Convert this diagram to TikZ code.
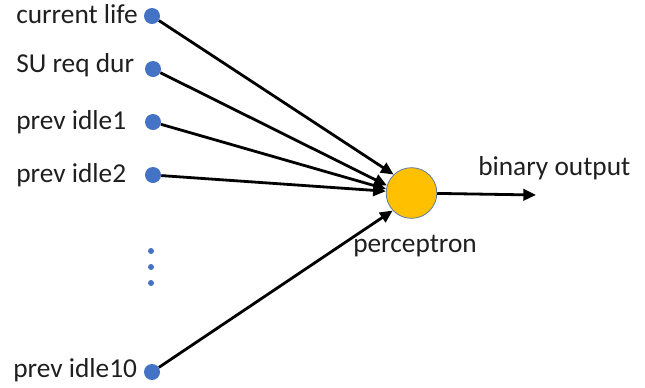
\documentclass[tikz,border=0pt]{standalone}
\usepackage{fontspec}
\setmainfont{Carlito}
\usetikzlibrary{arrows.meta}
\definecolor{dotblue}{HTML}{4472C4}
\definecolor{pgold}{HTML}{FFC000}
\definecolor{pedge}{HTML}{5B7BAA}
\begin{document}
\begin{tikzpicture}[x=0.75pt,y=-0.75pt,
  inputdot/.style={circle,fill=dotblue,minimum size=12pt,inner sep=0pt},
  smalldot/.style={circle,fill=dotblue,minimum size=4.5pt,inner sep=0pt},
  lbl/.style={anchor=base west,inner sep=0pt,font=\fontsize{20.5}{24}\selectfont,text=black!88},
  conn/.style={line width=2.1pt,-{Triangle[length=9.5pt,width=8.5pt]}}]
\useasboundingbox (0,0) rectangle (645,387);
\node[inputdot] (d1) at (152,16) {};
\node[inputdot] (d2) at (153,69) {};
\node[inputdot] (d3) at (153,122) {};
\node[inputdot] (d4) at (153,175) {};
\node[inputdot] (d10) at (152,372) {};
\node[smalldot] (e1) at (151,251) {};
\node[smalldot] (e2) at (151,267) {};
\node[smalldot] (e3) at (151,283) {};
\node[circle,fill=pgold,draw=pedge,line width=0.6pt,minimum size=38pt,inner sep=0pt] (p) at (411.5,193) {};
\coordinate (out) at (536,195);
\node[lbl] (l1) at (16,23) {current life};
\node[lbl] (l2) at (16,72) {SU req dur};
\node[lbl] (l3) at (16,129) {prev idle1};
\node[lbl] (l4) at (16,182) {prev idle2};
\node[lbl] (l10) at (13,377) {prev idle10};
\node[lbl] (lo) at (478,175) {binary output};
\node[lbl] (lp) at (353,252) {perceptron};
\draw[conn] (d1) -- (p.134);
\draw[conn] (d2) -- (p.163);
\draw[conn] (d3) -- (p.171);
\draw[conn] (d4) -- (p.176);
\draw[conn] (d10) -- (p.223);
\draw[conn] (p) -- (out);
\end{tikzpicture}
\end{document}
